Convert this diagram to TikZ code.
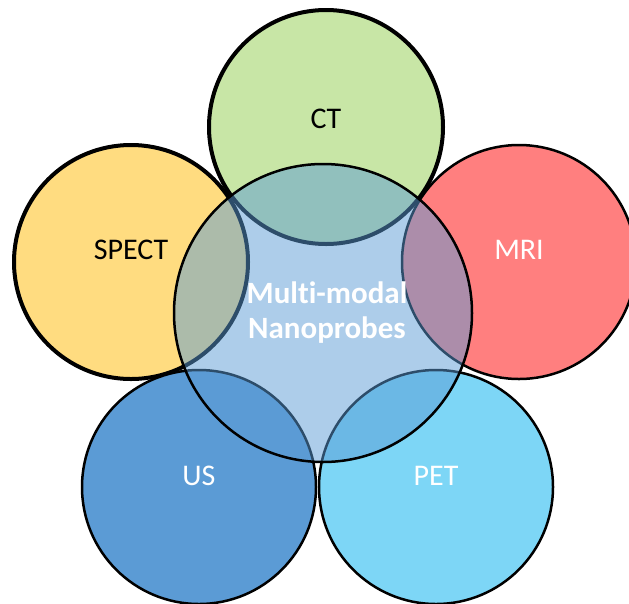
\documentclass[tikz,border=0pt]{standalone}
\usepackage{fontspec}
\setmainfont[Ligatures=NoCommon]{Carlito}
\definecolor{ctgreen}{HTML}{C8E6A6}
\definecolor{spectgold}{HTML}{FFDC80}
\definecolor{mrired}{HTML}{FF7F7F}
\definecolor{usblue}{HTML}{5B9BD5}
\definecolor{petblue}{HTML}{7DD6F6}
\tikzset{
  modal/.style={circle, draw, inner sep=0, outer sep=0, line width=2.5pt, minimum size=234pt},
  thickmodal/.style={modal, line width=4pt},
  modtext/.style={font=\fontsize{30}{34}\selectfont}
}
\begin{document}
\begin{tikzpicture}[x=1pt, y=-1pt]
\useasboundingbox (0,0) rectangle (629,603);
% outer modalities
\node[thickmodal, fill=ctgreen] (ct) at (326,127) {};
\node[thickmodal, fill=spectgold] (spect) at (131,262) {};
\node[modal, fill=mrired] (mri) at (519,262) {};
\node[modal, fill=usblue] (us) at (199,487) {};
\node[modal, fill=petblue] (pet) at (436,487) {};
\node[modtext] (ctlabel) at ([yshift=8pt]ct.center) {CT};
\node[modtext] (spectlabel) at ([yshift=12pt]spect.center) {SPECT};
\node[modtext, white] (mrilabel) at ([yshift=12pt]mri.center) {MRI};
\node[modtext, white] (uslabel) at ([yshift=11pt]us.center) {US};
\node[modtext, white] (petlabel) at ([yshift=11pt]pet.center) {PET};
% centre
\node[modal, fill=usblue, fill opacity=0.5, text opacity=1, minimum size=298pt] (nano) at (323,313) {};
\node[modtext, white, font=\fontsize{31}{35}\selectfont\bfseries, align=center] (nanolabel) at ([xshift=4pt]nano.center) {Multi-modal\\Nanoprobes};
\end{tikzpicture}
\end{document}
